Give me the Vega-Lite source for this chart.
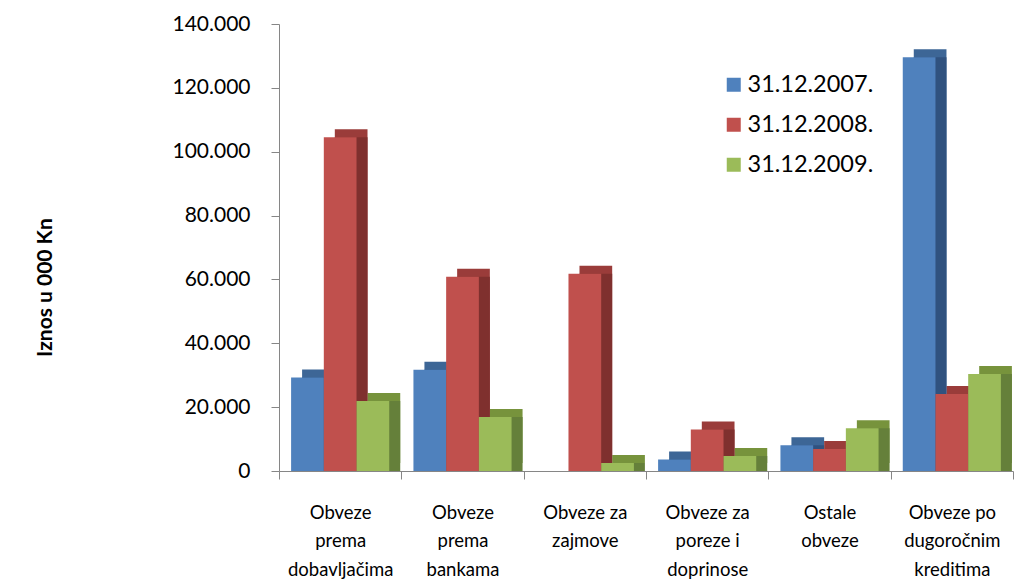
{
  "$schema": "https://vega.github.io/schema/vega-lite/v6.json",
  "autosize": {"type": "none"},
  "width": 734,
  "height": 447,
  "padding": {"left": 279, "top": 24, "right": 1, "bottom": 109},
  "background": "white",
  "config": {
    "view": {"stroke": null},
    "font": "Lato",
    "axis": {"labelFont": "Lato", "titleFont": "Lato", "labelColor": "#000000", "titleColor": "#000000"},
    "legend": {"labelFont": "Lato"}
  },
  "data": {
    "values": [
      {"k": "Obveze prema dobavljačima", "s": "31.12.2007.", "v": 29300},
      {"k": "Obveze prema dobavljačima", "s": "31.12.2008.", "v": 104500},
      {"k": "Obveze prema dobavljačima", "s": "31.12.2009.", "v": 21900},
      {"k": "Obveze prema bankama", "s": "31.12.2007.", "v": 31700},
      {"k": "Obveze prema bankama", "s": "31.12.2008.", "v": 60800},
      {"k": "Obveze prema bankama", "s": "31.12.2009.", "v": 16900},
      {"k": "Obveze za zajmove", "s": "31.12.2007.", "v": 0},
      {"k": "Obveze za zajmove", "s": "31.12.2008.", "v": 61800},
      {"k": "Obveze za zajmove", "s": "31.12.2009.", "v": 2500},
      {"k": "Obveze za poreze i doprinose", "s": "31.12.2007.", "v": 3600},
      {"k": "Obveze za poreze i doprinose", "s": "31.12.2008.", "v": 13000},
      {"k": "Obveze za poreze i doprinose", "s": "31.12.2009.", "v": 4700},
      {"k": "Ostale obveze", "s": "31.12.2007.", "v": 8100},
      {"k": "Ostale obveze", "s": "31.12.2008.", "v": 6900},
      {"k": "Ostale obveze", "s": "31.12.2009.", "v": 13400},
      {"k": "Obveze po dugoročnim kreditima", "s": "31.12.2007.", "v": 129600},
      {"k": "Obveze po dugoročnim kreditima", "s": "31.12.2008.", "v": 24100},
      {"k": "Obveze po dugoročnim kreditima", "s": "31.12.2009.", "v": 30400}
    ]
  },
  "layer": [
    {
      "mark": {"type": "bar", "yOffset": -8},
      "encoding": {
        "x": {"field": "k", "type": "nominal", "sort": null, "scale": {"range": [11, 745], "paddingInner": 0, "paddingOuter": 0}, "axis": null},
        "xOffset": {"field": "s", "type": "nominal", "scale": {"paddingInner": 0, "paddingOuter": 0.37}},
        "y": {"field": "v", "type": "quantitative"},
        "color": {"field": "s", "type": "nominal", "scale": {"range": ["#3d6696", "#9a3c3a", "#77933c"]}, "legend": null}
      }
    },
    {
      "mark": {"type": "bar"},
      "encoding": {
        "x": {"field": "k", "type": "nominal", "sort": null, "scale": {"range": [11, 745], "paddingInner": 0, "paddingOuter": 0}, "axis": null},
        "xOffset": {"field": "s", "type": "nominal", "scale": {"paddingInner": 0, "paddingOuter": 0.37}},
        "y": {"field": "v", "type": "quantitative"},
        "color": {"field": "s", "type": "nominal", "scale": {"range": ["#30527f", "#7f302e", "#65803a"]}, "legend": null}
      }
    },
    {
      "mark": {"type": "bar"},
      "encoding": {
        "x": {
          "field": "k", "type": "nominal", "sort": null,
          "scale": {"paddingInner": 0, "paddingOuter": 0},
          "axis": {
            "title": null, "labelAngle": 0, "tickBand": "extent", "tickSize": 8,
            "domainColor": "#868686", "tickColor": "#868686", "labelFontSize": 18.5,
            "labelLineHeight": 28.5, "labelPadding": 24,
            "labelExpr": "datum.extra ? '' : datum.value == 'Obveze prema dobavljačima' ? ['Obveze','prema','dobavljačima'] : datum.value == 'Obveze prema bankama' ? ['Obveze','prema','bankama'] : datum.value == 'Obveze za zajmove' ? ['Obveze za','zajmove'] : datum.value == 'Obveze za poreze i doprinose' ? ['Obveze za','poreze i','doprinose'] : datum.value == 'Ostale obveze' ? ['Ostale','obveze'] : datum.value == 'Obveze po dugoročnim kreditima' ? ['Obveze po','dugoročnim','kreditima'] : ''"
          }
        },
        "xOffset": {"field": "s", "type": "nominal", "scale": {"paddingInner": 0, "paddingOuter": 0.37}},
        "y": {
          "field": "v", "type": "quantitative",
          "scale": {"domain": [0, 140000], "nice": false},
          "axis": {
            "values": [0, 20000, 40000, 60000, 80000, 100000, 120000, 140000],
            "labelExpr": "replace(format(datum.value, ','), ',', '.')",
            "grid": false, "tickSize": 8, "labelPadding": 21, "labelFontSize": 21,
            "domainColor": "#868686", "tickColor": "#868686",
            "title": "Iznos u 000 Kn", "titleFontSize": 21, "titleFontWeight": "bold",
            "titleX": -234, "titleY": 263, "titleAlign": "center", "titleBaseline": "middle", "titleAngle": -90
          }
        },
        "color": {
          "field": "s", "type": "nominal",
          "scale": {"range": ["#4f81bd", "#c0504d", "#9bbb59"]},
          "legend": {
            "title": null, "orient": "none", "legendX": 443, "legendY": 49,
            "symbolType": "square", "symbolSize": 196, "symbolStrokeWidth": 0,
            "labelFontSize": 23.5, "labelOffset": 2, "rowPadding": 15, "labelColor": "#000000"
          }
        }
      }
    }
  ],
  "resolve": {"scale": {"x": "independent", "xOffset": "independent", "color": "independent"}, "axis": {"x": "independent"}}
}
